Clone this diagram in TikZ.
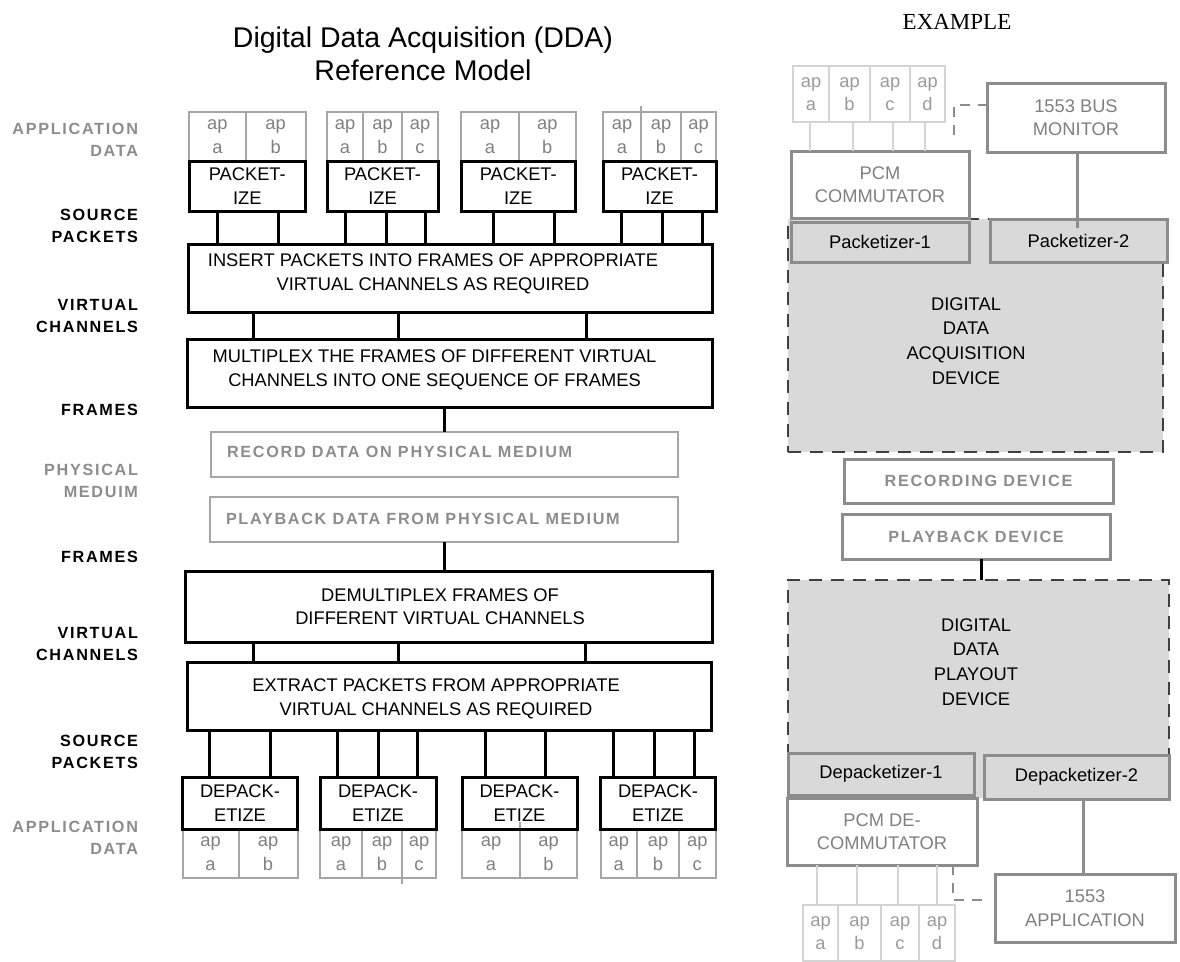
\documentclass[tikz,border=0pt]{standalone}
\usepackage{fontspec}
\setmainfont{Liberation Sans}
\newfontfamily\tracked[LetterSpace=10.5]{Liberation Sans}
\newfontfamily\timesfont{Liberation Serif}
\definecolor{cellgray}{HTML}{A6A6A6}
\definecolor{celltext}{HTML}{808080}
\definecolor{rcellgray}{HTML}{D4D4D4}
\definecolor{rcelltext}{HTML}{9A9A9A}
\definecolor{boxgray}{HTML}{8C8C8C}
\definecolor{graytext}{HTML}{7F7F7F}
\definecolor{medgray}{HTML}{A6A6A6}
\definecolor{fillgray}{HTML}{D9D9D9}
\definecolor{dashgray}{HTML}{404040}
\definecolor{lblgray}{HTML}{8C8C8C}
\begin{document}
\begin{tikzpicture}[x=1pt,y=-1pt,
  every node/.style={inner sep=0pt,outer sep=0pt},
  nfont/.style={font=\fontsize{18.3}{23.4}\selectfont},
  blk/.style={draw=black,line width=3pt,anchor=north west,align=center,nfont},
  cell/.style={draw=cellgray,line width=2pt,anchor=north west,align=center,text=celltext,nfont,minimum height=49pt},
  rcell/.style={draw=rcellgray,line width=2.5pt,anchor=north west,align=center,text=rcelltext,nfont,minimum height=56pt},
  gbox/.style={draw=boxgray,line width=3pt,anchor=north west,align=center,text=graytext,nfont},
  medbox/.style={draw=medgray,line width=2.5pt,anchor=north west},
  pbox/.style={fill=fillgray,draw=boxgray,line width=3pt,anchor=north west,align=center,nfont},
  region/.style={fill=fillgray,draw=dashgray,line width=1.5pt,dash pattern=on 13pt off 9pt,anchor=north west},
  lbl/.style={anchor=east,align=right,font=\tracked\bfseries\fontsize{16.2}{22.5}\selectfont},
  glbl/.style={lbl,text=lblgray},
  boldgray/.style={font=\tracked\bfseries\fontsize{16.2}{22}\selectfont,text=lblgray},
  txt/.style={align=center,nfont},
  conn/.style={draw=black,line width=3pt},
  gconn/.style={draw=boxgray,line width=3pt},
  lconn/.style={draw=rcellgray,line width=2.5pt},
  dconn/.style={draw=boxgray,line width=1.5pt,dash pattern=on 10pt off 8pt}
]
\useasboundingbox (0,0) rectangle (1180,961);

% ---------- titles ----------
\node[font=\fontsize{28.5}{32.5}\selectfont,align=center] (title) at (423,54) {Digital Data Acquisition (DDA)\\Reference Model};
\node[font=\timesfont\fontsize{23}{27}\selectfont] (ex) at (957,22) {EXAMPLE};

% ---------- layer labels ----------
\node[glbl] (l1) at (138,140) {APPLICATION\\DATA};
\node[lbl]  (l2) at (138,226) {SOURCE\\PACKETS};
\node[lbl]  (l3) at (138,316) {VIRTUAL\\CHANNELS};
\node[lbl]  (l4) at (138,410) {FRAMES};
\node[glbl] (l5) at (138,481) {PHYSICAL\\MEDUIM};
\node[lbl]  (l6) at (138,557) {FRAMES};
\node[lbl]  (l7) at (138,644) {VIRTUAL\\CHANNELS};
\node[lbl]  (l8) at (138,752) {SOURCE\\PACKETS};
\node[glbl] (l9) at (138,838) {APPLICATION\\DATA};

% ---------- application data (top) ----------
\node[cell,minimum width=56.7] (ua1) at (189,112) {ap\\a};
\node[cell,minimum width=59.8] (ub1) at (245.7,112) {ap\\b};
\node[cell,minimum width=36] (ua2) at (327,112) {ap\\a};
\node[cell,minimum width=39] (ub2) at (363,112) {ap\\b};
\node[cell,minimum width=36] (uc2) at (402,112) {ap\\c};
\node[cell,minimum width=58] (ua3) at (461,112) {ap\\a};
\node[cell,minimum width=56.5] (ub3) at (519,112) {ap\\b};
\node[cell,minimum width=38] (ua4) at (603,112) {ap\\a};
\node[cell,minimum width=40] (ub4) at (641,112) {ap\\b};
\node[cell,minimum width=35] (uc4) at (681,112) {ap\\c};
\draw[draw=cellgray,line width=1.5pt] (ub4.north west) -- ++(0,-6);

% ---------- packetizers ----------
\node[blk,minimum width=116.5,minimum height=50] (pk1) at (189,161) {PACKET-\\IZE};
\node[blk,minimum width=111,minimum height=50] (pk2) at (327,161) {PACKET-\\IZE};
\node[blk,minimum width=114.5,minimum height=50] (pk3) at (461,161) {PACKET-\\IZE};
\node[blk,minimum width=113,minimum height=50] (pk4) at (603,161) {PACKET-\\IZE};

% ---------- processing layers ----------
\node[blk,minimum width=524,minimum height=68] (ins) at (188,244) {};
\node[txt] (insT) at (433,274) {INSERT PACKETS INTO FRAMES OF APPROPRIATE\\VIRTUAL CHANNELS AS REQUIRED};
\node[blk,minimum width=525,minimum height=68] (mux) at (187,339) {};
\node[txt] (muxT) at (434.5,370) {MULTIPLEX THE FRAMES OF DIFFERENT VIRTUAL\\CHANNELS INTO ONE SEQUENCE OF FRAMES};
\node[medbox,minimum width=467,minimum height=45] (rec) at (211,432) {};
\node[boldgray,anchor=west] (recT) at (227,452) {RECORD DATA ON PHYSICAL MEDIUM};
\node[medbox,minimum width=468,minimum height=45] (pb) at (210,497) {};
\node[boldgray,anchor=west] (pbT) at (226,519) {PLAYBACK DATA FROM PHYSICAL MEDIUM};
\node[blk,minimum width=527,minimum height=71] (dmx) at (185,571) {};
\node[txt] (dmxT) at (440,606.5) {DEMULTIPLEX FRAMES OF\\DIFFERENT VIRTUAL CHANNELS};
\node[blk,minimum width=524,minimum height=68] (ext) at (187,662) {};
\node[txt] (extT) at (436,699) {EXTRACT PACKETS FROM APPROPRIATE\\VIRTUAL CHANNELS AS REQUIRED};

% ---------- application data (bottom) ----------
\node[cell,minimum width=56.1] (la1) at (182.5,829) {ap\\a};
\node[cell,minimum width=58.9] (lb1) at (238.6,829) {ap\\b};
\node[cell,minimum width=42] (la2) at (320,829) {ap\\a};
\node[cell,minimum width=40] (lb2) at (362,829) {ap\\b};
\node[cell,minimum width=34] (lc2) at (402,829) {ap\\c};
\node[cell,minimum width=58] (la3) at (462,829) {ap\\a};
\node[cell,minimum width=57] (lb3) at (520,829) {ap\\b};
\node[cell,minimum width=36.5] (la4) at (600.5,829) {ap\\a};
\node[cell,minimum width=42] (lb4) at (637,829) {ap\\b};
\node[cell,minimum width=36.5] (lc4) at (679,829) {ap\\c};
\draw[draw=cellgray,line width=1.5pt] (lc2.south west) -- ++(0,6);
\draw[draw=cellgray,line width=1.5pt] (lb3.north west) -- ++(0,-7);

% ---------- depacketizers ----------
\node[blk,minimum width=115,minimum height=52] (dp1) at (182.5,777) {DEPACK-\\ETIZE};
\node[blk,minimum width=116,minimum height=52] (dp2) at (320,777) {DEPACK-\\ETIZE};
\node[blk,minimum width=115,minimum height=52] (dp3) at (462,777) {DEPACK-\\ETIZE};
\node[blk,minimum width=115,minimum height=52] (dp4) at (600.5,777) {DEPACK-\\ETIZE};

% ---------- reference model connectors ----------
\foreach \x in {217,278} \draw[conn] (\x,0 |- pk1.south) -- (\x,0 |- ins.north);
\foreach \x in {345,386,425} \draw[conn] (\x,0 |- pk2.south) -- (\x,0 |- ins.north);
\foreach \x in {493,554} \draw[conn] (\x,0 |- pk3.south) -- (\x,0 |- ins.north);
\foreach \x in {621,662.5,702} \draw[conn] (\x,0 |- pk4.south) -- (\x,0 |- ins.north);
\foreach \x in {253.3,398.3,586} \draw[conn] (\x,0 |- ins.south) -- (\x,0 |- mux.north);
\draw[conn] (444.3,0 |- mux.south) -- (444.3,0 |- rec.north);
\draw[conn] (444.6,0 |- pb.south) -- (444.6,0 |- dmx.north);
\foreach \x in {253.6,398.6,585} \draw[conn] (\x,0 |- dmx.south) -- (\x,0 |- ext.north);
\foreach \x in {209.3,270} \draw[conn] (\x,0 |- ext.south) -- (\x,0 |- dp1.north);
\foreach \x in {337.5,378.6,417.9} \draw[conn] (\x,0 |- ext.south) -- (\x,0 |- dp2.north);
\foreach \x in {485.7,545.7} \draw[conn] (\x,0 |- ext.south) -- (\x,0 |- dp3.north);
\foreach \x in {613.5,654.8,694} \draw[conn] (\x,0 |- ext.south) -- (\x,0 |- dp4.north);

% ---------- example: acquisition side ----------
\node[rcell,minimum width=36] (ta) at (793,66) {ap\\a};
\node[rcell,minimum width=41] (tb) at (829,66) {ap\\b};
\node[rcell,minimum width=40] (tc) at (870,66) {ap\\c};
\node[rcell,minimum width=35] (td) at (910,66) {ap\\d};
\node[gbox,minimum width=178,minimum height=69] (mon) at (987,83) {1553 BUS\\MONITOR};
\node[region,minimum width=375,minimum height=233] (dda) at (788,219) {};
\node[gbox,minimum width=178,minimum height=67] (pcm) at (791,151) {PCM\\COMMUTATOR};
\node[pbox,minimum width=178,minimum height=40] (pz1) at (791,222) {Packetizer-1};
\node[pbox,minimum width=177,minimum height=43] (pz2) at (990,219) {Packetizer-2};
\node[txt,font=\fontsize{18.3}{24.7}\selectfont] (ddaT) at (966,341) {DIGITAL\\DATA\\ACQUISITION\\DEVICE};

% ---------- example: recording and playback ----------
\node[gbox,boldgray,minimum width=269,minimum height=44] (recd) at (844,459) {RECORDING DEVICE};
\node[gbox,boldgray,minimum width=268,minimum height=45] (pbd) at (842,514) {PLAYBACK DEVICE};

% ---------- example: playout side ----------
\node[region,minimum width=381,minimum height=218] (pod) at (788,580) {};
\node[txt,font=\fontsize{18.3}{24.7}\selectfont] (podT) at (976,662) {DIGITAL\\DATA\\PLAYOUT\\DEVICE};
\node[pbox,minimum width=186,minimum height=42] (dz1) at (788,753) {Depacketizer-1};
\node[pbox,minimum width=185,minimum height=44] (dz2) at (984,755) {Depacketizer-2};
\node[gbox,minimum width=190,minimum height=67] (pcmd) at (787,798) {PCM DE-\\COMMUTATOR};
\node[gbox,minimum width=180,minimum height=68] (app) at (995,874) {1553\\APPLICATION};
\node[rcell,minimum width=35] (ba) at (803,905) {ap\\a};
\node[rcell,minimum width=43] (bb) at (838,905) {ap\\b};
\node[rcell,minimum width=38] (bc) at (881,905) {ap\\c};
\node[rcell,minimum width=36] (bd) at (919,905) {ap\\d};

% ---------- example connectors ----------
\draw[lconn] (810,0 |- ta.south) -- (810,0 |- pcm.north);
\draw[lconn] (853,0 |- tb.south) -- (853,0 |- pcm.north);
\draw[lconn] (893,0 |- tc.south) -- (893,0 |- pcm.north);
\draw[lconn] (925,0 |- td.south) -- (925,0 |- pcm.north);
\draw[gconn] (1077,0 |- mon.south) -- (1077,0 |- pz2.north) -- ++(0,9);
\coordinate (dtop) at (954,135);
\draw[dconn] (dtop) |- (mon.west |- 0,105);
\draw[conn] (981,0 |- pbd.south) -- (981,0 |- pod.north);
\draw[gconn] (1083,0 |- dz2.south) -- (1083,0 |- app.north);
\draw[lconn] (817,0 |- pcmd.south) -- (817,0 |- ba.north);
\draw[lconn] (857,0 |- pcmd.south) -- (857,0 |- bb.north);
\draw[lconn] (898,0 |- pcmd.south) -- (898,0 |- bc.north);
\draw[lconn] (937,0 |- pcmd.south) -- (937,0 |- bd.north);
\coordinate (dbot) at (983,900);
\draw[dconn] (953,0 |- pcmd.south) |- (dbot);
\end{tikzpicture}
\end{document}
